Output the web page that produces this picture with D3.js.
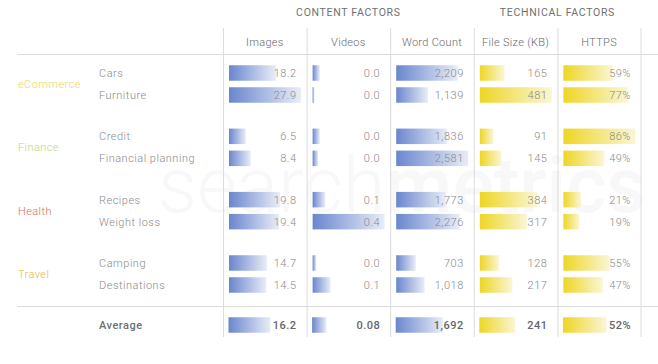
<!DOCTYPE html>
<html>
<head>
<meta charset="utf-8">
<script src="https://cdn.jsdelivr.net/npm/d3@7"></script>
<style>
  html, body { margin: 0; padding: 0; background: #fff; }
  svg { display: block; font-family: Roboto, "Noto Sans", sans-serif; }
</style>
</head>
<body>
<svg id="chart" width="658" height="364"></svg>
<script>
// ---------- data ----------
const groups = ["eCommerce", "Finance", "Health", "Travel"];
const groupColors = ["#f1d457", "#bcd47e", "#dd6a5c", "#e8b54c"];
const subcategories = ["Cars", "Furniture", "Credit", "Financial planning", "Recipes", "Weight loss", "Camping", "Destinations"];
const subGroup = ["eCommerce", "eCommerce", "Finance", "Finance", "Health", "Health", "Travel", "Travel"];
const columns = ["Images", "Videos", "Word Count", "File Size (KB)", "HTTPS"];
const sections = ["CONTENT FACTORS", "TECHNICAL FACTORS"];
const images = [18.2, 27.9, 6.5, 8.4, 19.8, 19.4, 14.7, 14.5];
const videos = [0.04, 0.01, 0.04, 0.03, 0.07, 0.4, 0.02, 0.1];
const wordCount = [2209, 1139, 1836, 2581, 1773, 2276, 703, 1018];
const fileSize = [165, 481, 91, 145, 384, 317, 128, 217];
const https = [59, 77, 86, 49, 21, 19, 55, 47];
const averages = [16.2, 0.08, 1692, 241, 52];
const averageLabel = "Average";

// ---------- setup ----------
const svg = d3.select("#chart");
const defs = svg.append("defs");
const series = [images, videos, wordCount, fileSize, https];
const fmt = [d3.format(".1f"), d3.format(".1f"), d3.format(","), d3.format("d"), d => d + "%"];
const fmtAvg = [d3.format(".1f"), d3.format(".2f"), d3.format(","), d3.format("d"), d => d + "%"];
const palette = ["blue", "blue", "blue", "yellow", "yellow"];

const gradStops = {
  blue: ["#6a86cd", "#e9edf8"],
  yellow: ["#eed624", "#faf6d6"]
};
Object.entries(gradStops).forEach(([k, s]) => {
  const g = defs.append("linearGradient").attr("id", "g-" + k)
    .attr("x1", "0").attr("x2", "1").attr("y1", "0").attr("y2", "0");
  g.append("stop").attr("offset", "0").attr("stop-color", s[0]);
  g.append("stop").attr("offset", "1").attr("stop-color", s[1]);
});

// watermark
const wm = svg.append("text").attr("x", 158).attr("y", 212)
  .attr("font-size", 77).attr("font-weight", 300).attr("fill", "#000").attr("opacity", 0.025);
wm.append("tspan").text("search");
wm.append("tspan").attr("font-weight", 500).text("metrics");

// column scale
const colX = d3.scaleBand().domain(columns).range([223, 641]);
const sectionSpan = [[columns[0], columns[2]], [columns[3], columns[4]]];

// row positions
const groupY = d3.scalePoint().domain(groups).range([84, 274]);
const rowOffset = d3.scalePoint().domain([0, 1]).range([-11, 11]);
const rowY = i => groupY(subGroup[i]) + rowOffset(i % 2);
const avgY = 325;
const barH = 15.5;

// grid lines
const lineColor = "#dcdcdc";
svg.append("g").selectAll("line").data(columns.concat(["end"])).join("line")
  .attr("x1", d => d === "end" ? colX.range()[1] : colX(d) + 0.5)
  .attr("x2", d => d === "end" ? colX.range()[1] : colX(d) + 0.5)
  .attr("y1", 28).attr("y2", 337)
  .attr("stroke", lineColor).attr("stroke-width", 1);
svg.append("g").selectAll("line").data([54.5, 306.5]).join("line")
  .attr("x1", 17).attr("x2", 658).attr("y1", d => d).attr("y2", d => d)
  .attr("stroke", lineColor).attr("stroke-width", 1);

// section headers
svg.append("g").selectAll("text").data(sections).join("text")
  .attr("x", (d, i) => (colX(sectionSpan[i][0]) + colX(sectionSpan[i][1]) + colX.bandwidth()) / 2)
  .attr("y", 16).attr("text-anchor", "middle")
  .attr("font-size", 10.5).attr("font-weight", 400).attr("letter-spacing", 0.7)
  .attr("fill", "#707070").text(d => d);

// column headers
svg.append("g").selectAll("text").data(columns).join("text")
  .attr("x", d => colX(d) + colX.bandwidth() / 2).attr("y", 46)
  .attr("text-anchor", "middle").attr("font-size", 11).attr("font-weight", 300).attr("letter-spacing", 0.3)
  .attr("fill", "#6a6a6a").text(d => d);

// group labels
svg.append("g").selectAll("text").data(groups).join("text")
  .attr("x", 18).attr("y", d => groupY(d) + 4)
  .attr("font-size", 11).attr("font-weight", 300).attr("letter-spacing", 0.4)
  .attr("fill", (d, i) => groupColors[i]).text(d => d);

// subcategory labels
svg.append("g").selectAll("text").data(subcategories).join("text")
  .attr("x", 99).attr("y", (d, i) => rowY(i) + 4)
  .attr("font-size", 11).attr("font-weight", 300).attr("letter-spacing", 0.5)
  .attr("fill", "#8a8a8a").text(d => d);

svg.append("text").attr("x", 99).attr("y", avgY + 4)
  .attr("font-size", 11).attr("font-weight", 500).attr("letter-spacing", 0.5)
  .attr("fill", "#6f6f6f").text(averageLabel);

// bars + values per column
columns.forEach((col, ci) => {
  const vals = series[ci];
  const x = d3.scaleLinear().domain([0, d3.max(vals)]).range([0, 72]);
  const left = colX(col) + 6;
  const right = colX(col) + colX.bandwidth() - 10;
  const g = svg.append("g");
  g.selectAll("rect.bar").data(vals).join("rect").attr("class", "bar")
    .attr("x", left).attr("y", (d, i) => rowY(i) - barH / 2)
    .attr("width", d => Math.max(1.5, x(d))).attr("height", barH)
    .attr("fill", "url(#g-" + palette[ci] + ")");
  g.selectAll("text.val").data(vals).join("text").attr("class", "val")
    .attr("x", right).attr("y", (d, i) => rowY(i) + 4)
    .attr("text-anchor", "end").attr("font-size", 11).attr("font-weight", 300).attr("letter-spacing", 0.5)
    .attr("fill", "#8a8a8a").text(d => fmt[ci](d));
  // average
  g.append("rect").attr("x", left - 0.5).attr("y", avgY - barH / 2)
    .attr("width", x(averages[ci])).attr("height", barH)
    .attr("fill", "url(#g-" + palette[ci] + ")");
  g.append("text").attr("x", right).attr("y", avgY + 4)
    .attr("text-anchor", "end").attr("font-size", 11).attr("font-weight", 500)
    .attr("letter-spacing", 0.5).attr("fill", "#666").text(fmtAvg[ci](averages[ci]));
});
</script>
</body>
</html>
